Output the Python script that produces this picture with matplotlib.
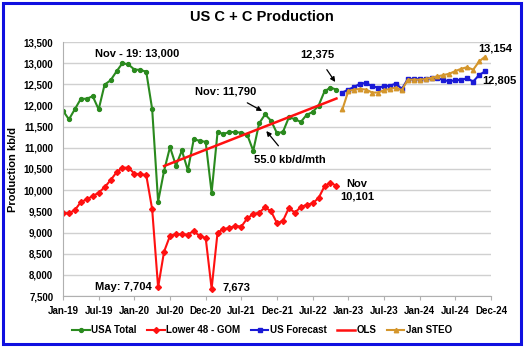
import numpy as np
import matplotlib
matplotlib.use("Agg")
import matplotlib.pyplot as plt
from matplotlib.patches import Rectangle

plt.rcParams['font.family'] = ['Liberation Sans', 'DejaVu Sans']

# ---------------- data (kb/d), month 0 = Jan-19 ----------------
usa_total = [11875, 11672, 11915, 12157, 12160, 12220, 11907, 12493, 12595, 12805,
             13000, 12970, 12850, 12840, 12800, 11915, 9728, 10455, 11017, 10580,
             10938, 10469, 11204, 11165, 11142, 9939, 11369, 11329, 11376, 11369,
             11360, 11306, 10930, 11580, 11790, 11640, 11345, 11376, 11720, 11680,
             11610, 11782, 11845, 12000, 12337, 12423, 12375]
lower48 = [9460, 9453, 9530, 9719, 9782, 9860, 9940, 10070, 10235, 10422,
           10532, 10532, 10392, 10375, 10360, 9548, 7704, 8547, 8922, 8960,
           8960, 8950, 9040, 8910, 8875, 7673, 9000, 9080, 9110, 9155,
           9140, 9335, 9435, 9470, 9595, 9500, 9220, 9275, 9580, 9470,
           9600, 9655, 9690, 9815, 10095, 10175, 10101]
us_forecast = [12306, 12376, 12438, 12517, 12531, 12454, 12423, 12454, 12470, 12517,
               12391, 12625, 12625, 12625, 12625, 12648, 12657, 12594, 12578, 12594,
               12610, 12641, 12565, 12720, 12805]
jan_steo = [11907, 12344, 12376, 12391, 12376, 12306, 12306, 12360, 12391, 12423,
            12360, 12610, 12610, 12610, 12625, 12657, 12688, 12719, 12751, 12813,
            12868, 12906, 12845, 13040, 13154]
ols_months = [17, 46]          # Jun-20 .. Nov-22
ols_values = [10570, 12165]

tick_labels = ['Jan-19', 'Jul-19', 'Jan-20', 'Jul-20', 'Dec-20', 'Jul-21', 'Dec-21',
               'Jul-22', 'Jan-23', 'Jul-23', 'Jan-24', 'Jul-24', 'Dec-24']

hist_x = np.arange(len(usa_total))
fc_x = np.arange(len(usa_total), len(usa_total) + len(us_forecast))

GREEN = '#2a8a1e'
RED = '#ff1010'
BLUE = '#1a1ad6'
ORANGE = '#d4962c'

fig = plt.figure(figsize=(5.24, 3.47), dpi=100)
ax = fig.add_axes([63 / 524, 1 - 296 / 347, 428 / 524, 254 / 347])

ax.plot(hist_x, usa_total, color=GREEN, lw=1.5, marker='o', ms=2.8, label='USA Total')
ax.plot(hist_x, lower48, color=RED, lw=1.5, marker='D', ms=3, label='Lower 48 - GOM')
ax.plot(fc_x, us_forecast, color=BLUE, lw=1.5, marker='s', ms=3, label='US Forecast')
ax.plot(ols_months, ols_values, color=RED, lw=1.8, label='OLS')
ax.plot(fc_x, jan_steo, color=ORANGE, lw=1.5, marker='^', ms=3.2, label='Jan STEO')

ax.set_xlim(0, 72)
ax.set_ylim(7500, 13500)
ax.set_yticks(np.arange(7500, 13501, 500))
ax.yaxis.set_major_formatter(matplotlib.ticker.StrMethodFormatter('{x:,.0f}'))
ax.set_xticks(np.arange(0, 73, 6))
ax.set_xticklabels(tick_labels)
ax.grid(axis='y', color='#d0d0d0', lw=1)
ax.set_axisbelow(True)
for s in ['top', 'right']:
    ax.spines[s].set_visible(False)
for s in ['left', 'bottom']:
    ax.spines[s].set_color('#b0b0b0')
ax.tick_params(axis='y', length=0, pad=7, labelsize=7)
ax.tick_params(axis='x', length=3, color='#b0b0b0', pad=4, labelsize=7)
for lbl in ax.get_xticklabels() + ax.get_yticklabels():
    lbl.set_fontweight('bold')

ax.set_ylabel('Production kb/d', fontsize=8, fontweight='bold', labelpad=4)
fig.text(262 / 524, 1 - 17 / 347, 'US C + C Production', ha='center', va='center',
         fontsize=10.5, fontweight='bold')

# annotations
tk = dict(fontsize=8, fontweight='bold')
arw = dict(arrowstyle='-|>', color='black', lw=0.9, mutation_scale=7)
ax.text(12.45, 13240, 'Nov - 19: 13,000', ha='center', va='center', **tk)
ax.annotate('Nov: 11,790', xy=(33.5, 11870), xytext=(27.4, 12342),
            ha='center', va='center', arrowprops=dict(arw, shrinkA=6, shrinkB=0), **tk)
ax.annotate('55.0 kb/d/mth', xy=(34.2, 11397), xytext=(38.2, 10712),
            ha='center', va='center', arrowprops=dict(arw, shrinkA=6, shrinkB=0), **tk)
ax.annotate('12,375', xy=(45.8, 12555), xytext=(42.7, 13193),
            ha='center', va='center', arrowprops=dict(arw, shrinkA=6, shrinkB=0), **tk)
ax.text(72.7, 13358, '13,154', ha='center', va='center', **tk)
ax.text(73.4, 12602, '12,805', ha='center', va='center', **tk)
ax.text(49.5, 10146, 'Nov', ha='center', va='center', **tk)
ax.text(49.5, 9862, '10,101', ha='center', va='center', **tk)
ax.text(15.0, 7712, 'May: 7,704', ha='right', va='center', **tk)
ax.text(29.2, 7712, '7,673', ha='center', va='center', **tk)

fig.legend(loc='center', bbox_to_anchor=(262 / 524, 1 - 330 / 347), ncol=5,
           frameon=False, prop=dict(size=7, weight='bold'), handlelength=1.8,
           handletextpad=0.15, columnspacing=1.1)

fig.patches.append(Rectangle((2.5 / 524, 3 / 347), 518 / 524, 341 / 347,
                             transform=fig.transFigure, fill=False,
                             edgecolor='#1010e0', lw=2.2))

fig.savefig('out.png', dpi=100)
